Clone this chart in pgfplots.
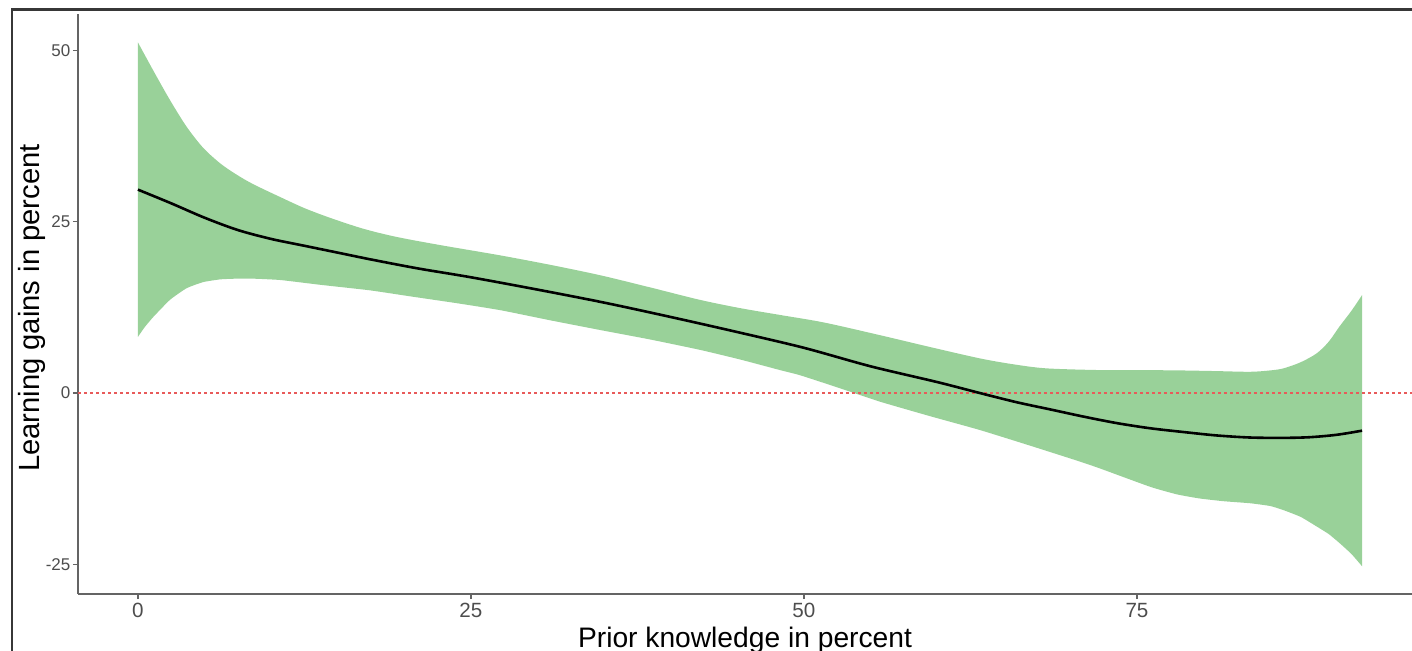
\documentclass[border=0pt]{standalone}
\usepackage{pgfplots}
\pgfplotsset{compat=1.18}
\usepgfplotslibrary{fillbetween}
\usepackage{fontspec}
\setmainfont{Liberation Sans}
\definecolor{ribbon}{RGB}{153,209,153}
\definecolor{tickgray}{RGB}{77,77,77}
\definecolor{axisgray}{RGB}{100,100,100}
\definecolor{framegray}{RGB}{55,55,55}
\definecolor{zeroline}{RGB}{232,90,90}

\begin{document}
\begin{tikzpicture}[x=1pt,y=1pt]
\begin{axis}[
  at={(39pt,28.5pt)}, anchor=south west,
  scale only axis, width=667pt, height=290pt,
  xmin=-4.5, xmax=95.65, ymin=-29.35, ymax=55.35,
  axis x line*=bottom, axis y line*=left,
  axis line style={draw=axisgray, line width=0.8pt, -},
  xtick={0,25,50,75}, ytick={-25,0,25,50},
  tick align=outside, major tick length=2.6pt,
  tick style={axisgray, line width=0.6pt},
  /pgf/number format/assume math mode=true,
  xticklabel style={font=\fontsize{10.3}{12}\selectfont, text=tickgray, inner sep=1pt, yshift=-1pt},
  yticklabel style={font=\fontsize{8.5}{10}\selectfont, text=tickgray, inner sep=1pt},
  xlabel={Prior knowledge in percent},
  ylabel={Learning gains in percent},
  xlabel style={font=\fontsize{14.1}{16}\selectfont, at={(axis description cs:0.5,0)}, anchor=north, yshift=-16.5pt, inner sep=0pt},
  ylabel style={font=\fontsize{14.6}{17}\selectfont, at={(axis description cs:0,0.5)}, anchor=south, yshift=16pt, xshift=-2pt, inner sep=0pt},
  clip=true,
]
\addplot[name path=U, draw=none, smooth, tension=0.5] coordinates {
(0,51.2) (1.15,47.1) (2.4,42.8) (3.65,38.9) (4.9,35.8) (6.2,33.5) (7.4,31.9)
(8.65,30.5) (10.7,28.6) (12.5,27.0) (14.4,25.6) (16.9,24.0) (19.4,22.8)
(22.7,21.6) (27.2,20.1) (31,18.7) (34.7,17.2) (38.5,15.4) (42.2,13.6) (45.2,12.4) (48.2,11.4)
(51.5,10.3) (55.7,8.45) (59.5,6.7) (63.2,5.06) (65.7,4.2) (68.2,3.6) (72.2,3.35) (75,3.35)
(78.2,3.3) (81,3.2) (83.5,3.1) (85,3.3) (86,3.6) (87.3,4.5) (88.5,5.8) (89.4,7.5)
(90.2,9.7) (91.1,12.0) (91.9,14.3)
};
\addplot[name path=L, draw=none, smooth, tension=0.3] coordinates {
(0,8.2) (0.5,9.6) (1.15,11.1) (2.4,13.6) (3.65,15.3) (4.9,16.2) (6.2,16.6) (7.4,16.7)
(8.65,16.7) (10.7,16.5) (13.7,15.8) (17.4,15.0) (20.5,14.1) (24,13.1) (27.2,12.1)
(31,10.6) (34.7,9.2) (38.5,7.8) (42.2,6.3) (45.2,4.9) (48.2,3.35) (49.7,2.6) (52.7,0.7)
(55.7,-1.26) (59.5,-3.4) (63.2,-5.4) (67,-7.7) (70.7,-10.0) (72.2,-11.0) (76,-13.7) (78,-14.8)
(79.7,-15.4) (81.5,-15.8) (83.5,-16.1) (85,-16.5) (86,-17.1) (87.3,-18.1) (88.5,-19.5) (89.4,-20.6)
(90.2,-21.9) (91.1,-23.5) (91.9,-25.3)
};
\addplot[fill=ribbon, draw=none] fill between[of=U and L];
\addplot[zeroline, line width=0.55pt, dash pattern=on 1.5pt off 1.5pt] coordinates {(-4.5,0) (95.65,0)};
\addplot[black, line width=1.3pt, smooth, tension=0.5] coordinates {
(0,29.7) (2.5,27.7) (5,25.6) (7.5,23.8) (10,22.5) (12.5,21.5) (15,20.5) (17.5,19.5)
(21,18.2) (25,16.9) (30,15.1) (35,13.2) (40,11.1) (45,8.9) (50,6.6) (55,3.9)
(60,1.6) (63.5,-0.15) (66,-1.36) (68.5,-2.4) (71,-3.45) (73.5,-4.4) (76,-5.15) (78.5,-5.7)
(81,-6.2) (83.5,-6.5) (86,-6.55) (88,-6.45) (90,-6.1) (91.9,-5.5)
};
\end{axis}
\draw[line width=1.2pt, framegray] (6,-2) -- (6,320.8) -- (710,320.8);
\pgfresetboundingbox
\path[use as bounding box] (0,0) rectangle (706,325.5);
\end{tikzpicture}
\end{document}
